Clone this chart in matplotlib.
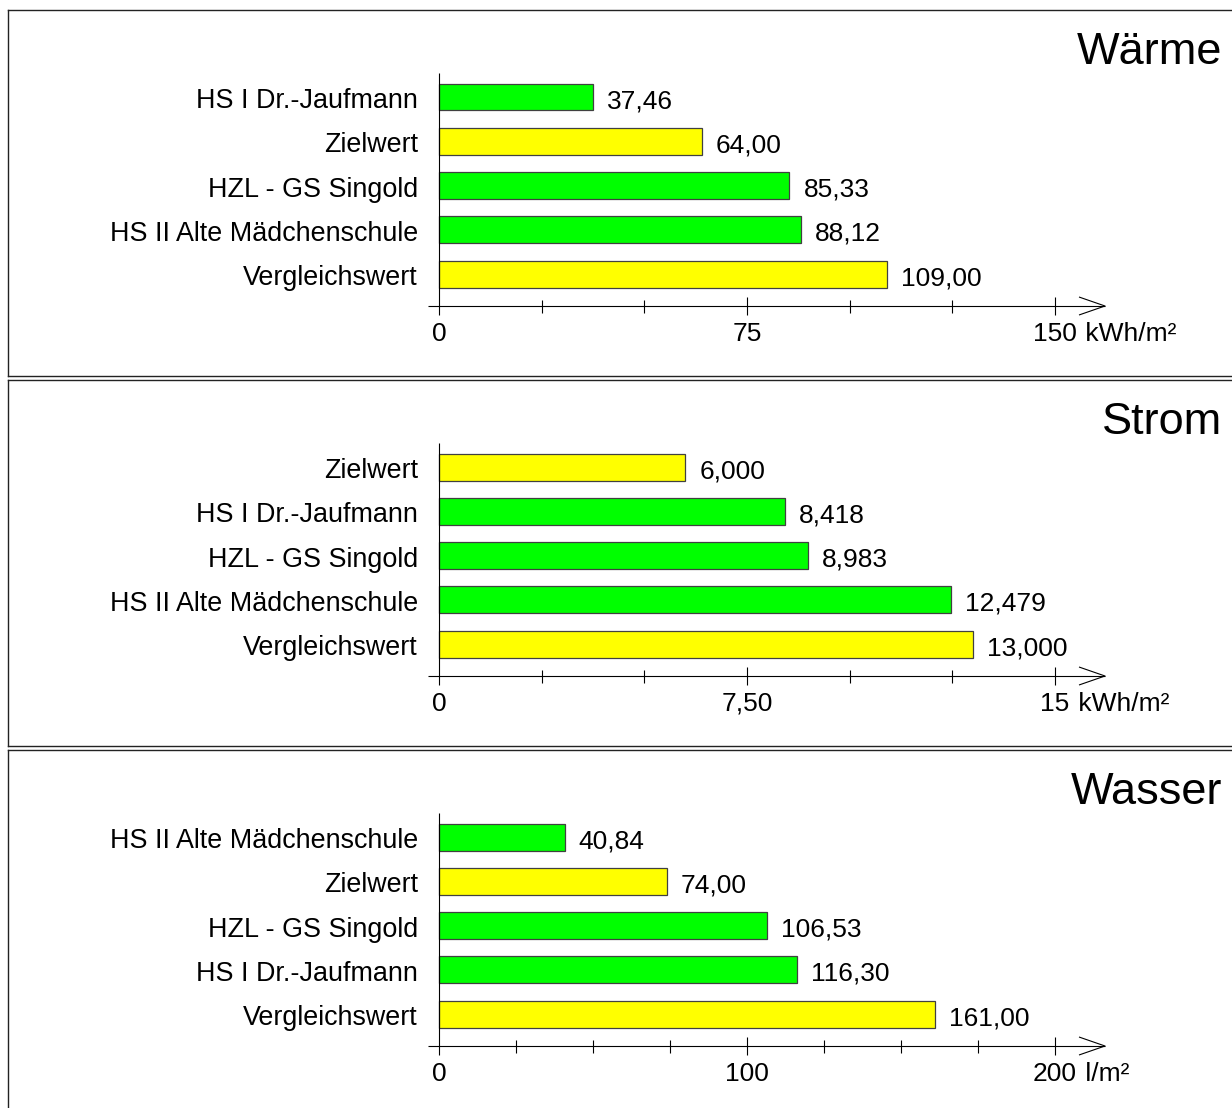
import matplotlib
matplotlib.use("Agg")
import matplotlib.pyplot as plt

plt.rcParams["font.family"] = ["Liberation Sans", "DejaVu Sans"]

# ---- data -------------------------------------------------------------
waerme_labels = ["HS I Dr.-Jaufmann", "Zielwert", "HZL - GS Singold",
                 "HS II Alte Mädchenschule", "Vergleichswert"]
waerme_values = [37.46, 64.00, 85.33, 88.12, 109.00]
waerme_major = [0, 75, 150]
waerme_major_labels = ["0", "75", "150"]
waerme_minor = [25, 50, 100, 125]

strom_labels = ["Zielwert", "HS I Dr.-Jaufmann", "HZL - GS Singold",
                "HS II Alte Mädchenschule", "Vergleichswert"]
strom_values = [6.000, 8.418, 8.983, 12.479, 13.000]
strom_major = [0, 7.5, 15]
strom_major_labels = ["0", "7,50", "15"]
strom_minor = [2.5, 5.0, 10.0, 12.5]

wasser_labels = ["HS II Alte Mädchenschule", "Zielwert", "HZL - GS Singold",
                 "HS I Dr.-Jaufmann", "Vergleichswert"]
wasser_values = [40.84, 74.00, 106.53, 116.30, 161.00]
wasser_major = [0, 100, 200]
wasser_major_labels = ["0", "100", "200"]
wasser_minor = [25, 50, 75, 125, 150, 175]

reference_names = ("Zielwert", "Vergleichswert")

# ---- layout (pixels) -------------------------------------------------
W, H = 1232, 1108
PANEL_H = 366
X0_PX, XMAX_PX = 439, 1055          # where 0 and the last major tick sit
FS = 19

fig = plt.figure(figsize=(W / 100, H / 100), dpi=100)


def fmt(v, decimals):
    return f"{v:.{decimals}f}".replace(".", ",")


def panel(top, title, labels, values, decimals, majors, major_labels, minors, unit):
    ax = fig.add_axes([8 / W, 1 - (top + PANEL_H) / H, (1240 - 8) / W, PANEL_H / H])
    s = majors[-1] / (XMAX_PX - X0_PX)          # data units per pixel
    ax.set_xlim((8 - X0_PX) * s, (1240 - X0_PX) * s)
    ax.set_ylim(PANEL_H, 0)
    ax.set_xticks([])
    ax.set_yticks([])
    for side in ("left", "top", "bottom"):
        ax.spines[side].set_color("#222222")
        ax.spines[side].set_linewidth(1.0)
    ax.spines["right"].set_visible(False)

    ys = [87 + 44.3 * i for i in range(len(values))]
    colors = ["#ffff00" if lab in reference_names else "#00ff00" for lab in labels]
    ax.barh(ys, values, height=27, color=colors, edgecolor="#404040",
            linewidth=0.9, zorder=3)

    for y, lab, v in zip(ys, labels, values):
        ax.text(-21 * s, y + 11, lab, ha="right", va="baseline", fontsize=19.4)
        ax.text(v + 14 * s, y + 11, fmt(v, decimals), ha="left",
                va="baseline", fontsize=FS)

    # axes with open arrow head
    axis_y = 296
    kw = dict(color="black", lw=0.8, solid_capstyle="butt", zorder=4)
    ax.plot([-11 * s, 666 * s], [axis_y, axis_y], **kw)
    ax.plot([0, 0], [63, 305], **kw)
    ax.plot([640 * s, 666 * s, 640 * s], [axis_y - 9, axis_y, axis_y + 9], **kw)
    for m in majors[1:]:
        ax.plot([m, m], [axis_y - 9, axis_y + 9], **kw)
    for m in minors:
        ax.plot([m, m], [axis_y - 6, axis_y + 7], **kw)

    last = None
    for m, lab in zip(majors, major_labels):
        last = ax.text(m, 331, lab, ha="center", va="baseline", fontsize=FS)
    ax.annotate(" " + unit, xy=(1, 0), xycoords=last, xytext=(1, 0),
                textcoords="offset pixels", ha="left", va="bottom", fontsize=FS)

    ax.text((1222 - X0_PX) * s, 54, title, ha="right", va="baseline", fontsize=32.5)


panel(10, "Wärme", waerme_labels, waerme_values, 2,
      waerme_major, waerme_major_labels, waerme_minor, "kWh/m²")
panel(380, "Strom", strom_labels, strom_values, 3,
      strom_major, strom_major_labels, strom_minor, "kWh/m²")
panel(750, "Wasser", wasser_labels, wasser_values, 2,
      wasser_major, wasser_major_labels, wasser_minor, "l/m²")

fig.savefig("out.png", dpi=100)
